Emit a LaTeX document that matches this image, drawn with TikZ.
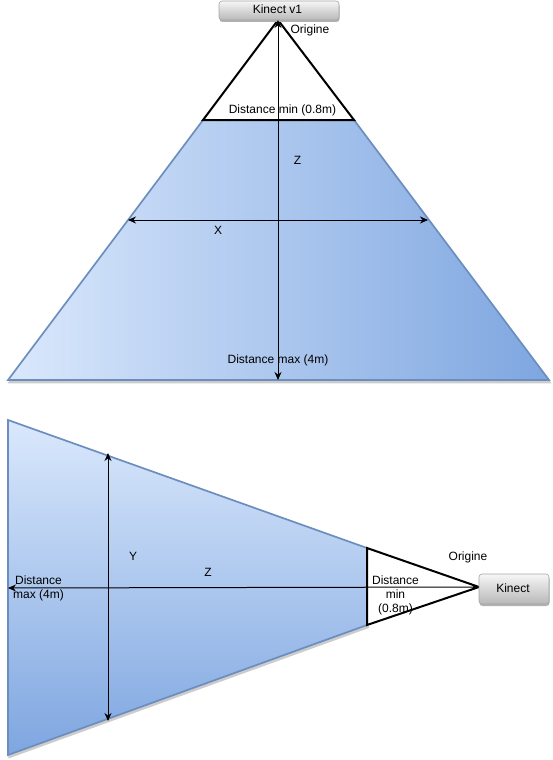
\documentclass[tikz,border=0pt]{standalone}
\usepackage{fontspec}
\setmainfont{Liberation Sans}
\usetikzlibrary{arrows.meta}
\definecolor{lightblue}{HTML}{DAE8FC}
\definecolor{darkblue}{HTML}{7EA6E0}
\definecolor{edgeblue}{HTML}{6C8EBF}
\definecolor{glasstop}{HTML}{F6F6F6}
\definecolor{glassbot}{HTML}{B8B8B8}
\tikzset{
	shade below/.style={preaction={draw=black!20,line width=1.5pt,fill=black!20,transform canvas={xshift=1pt,yshift=-2.5pt}}},
	field/.style={shade below,draw=edgeblue,line width=1.7pt},
	cone/.style={draw=black,line width=2pt,line join=miter,fill=white},
	sensor/.style={draw=gray!70,line width=0.6pt,rounded corners=3pt,top color=glasstop,bottom color=glassbot,preaction={fill=black!30,transform canvas={xshift=0.5pt,yshift=-2pt}},inner sep=0pt},
	axis/.style={black,line width=1pt,{Stealth[length=8pt,width=7pt]}-{Stealth[length=8pt,width=7pt]}},
	lbl/.style={font=\fontsize{12}{14}\selectfont,inner sep=0pt,align=center}
}
\begin{document}
\begin{tikzpicture}[x=1pt,y=-1pt]
	\useasboundingbox (0,0) rectangle (553,760);
	\coordinate (A) at (8,380);
	\coordinate (B) at (203,120);
	\coordinate (C) at (354,120);
	\coordinate (D) at (549,380);
	\coordinate (O) at (278,20);
	\coordinate (E) at (8,420);
	\coordinate (F) at (367,548);
	\coordinate (G) at (367,625);
	\coordinate (H) at (8,755);
	\coordinate (R) at (479,587);
	% vue de face
	\draw[field,left color=lightblue,right color=darkblue] (A) -- (B) -- (C) -- (D) -- cycle;
	\draw[cone] (O) -- (C) -- (B) -- cycle;
	\node[sensor,minimum width=120pt,minimum height=19pt] (kinectA) at (279,10.5) {};
	\node[lbl] (kinectAtxt) at (277.5,9) {Kinect v1};
	\coordinate (Zt) at (278,20);
	\coordinate (Zb) at (278,380);
	\coordinate (Xl) at (128,220);
	\coordinate (Xr) at (428,220);
	\draw[axis] (Zt) -- (Zb);
	\draw[axis] (Xl) -- (Xr);
	\node[lbl] (orgA) at (310,30) {Origine};
	\node[lbl] (minA) at (282.5,110) {Distance min (0.8m)};
	\node[lbl] (zA) at (297.5,160) {Z};
	\node[lbl] (xA) at (218,230) {X};
	\node[lbl] (maxA) at (278,360) {Distance max (4m)};
	% vue de cote
	\draw[field,top color=lightblue,bottom color=darkblue] (E) -- (F) -- (G) -- (H) -- cycle;
	\draw[cone] (F) -- (R) -- (G) -- cycle;
	\node[sensor,minimum width=70pt,minimum height=30pt] (kinectB) at (514,589) {};
	\node[lbl] (kinectBtxt) at (513,588) {Kinect};
	\coordinate (Zl) at (8,588);
	\coordinate (Yt) at (108,453);
	\coordinate (Yb) at (108,721);
	\draw[axis] (Zl) -- (R);
	\draw[axis] (Yt) -- (Yb);
	\node[lbl] (orgB) at (468,557) {Origine};
	\node[lbl] (yB) at (133,556) {Y};
	\node[lbl] (zB) at (208,572) {Z};
	\node[lbl] (maxB) at (38.5,588) {Distance\\max (4m)};
	\node[lbl] (minB) at (395.5,595) {Distance\\min\\(0.8m)};
\end{tikzpicture}
\end{document}
